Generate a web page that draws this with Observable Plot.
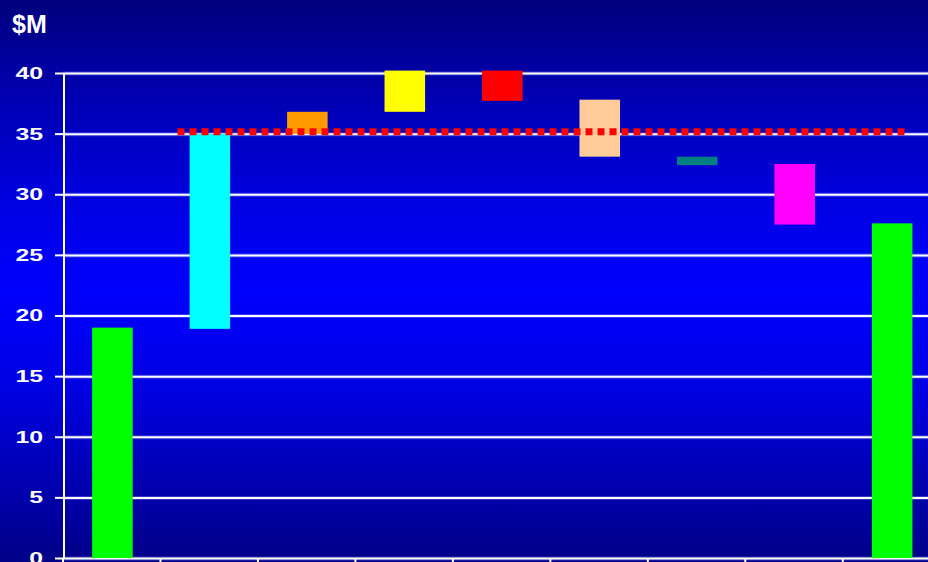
<!DOCTYPE html>
<html>
<head>
<meta charset="utf-8">
<script src="https://cdn.jsdelivr.net/npm/d3@7"></script>
<script src="https://cdn.jsdelivr.net/npm/@observablehq/plot@0.6"></script>
<style>
html, body { margin: 0; padding: 0; overflow: hidden; }
body {
  width: 928px; height: 562px; position: relative; color: #fff;
  font-family: "Liberation Sans", Arial, sans-serif;
  background: linear-gradient(to bottom, #00007e 0%, #0000b4 18%, #0000e6 38%, #0000ff 52%, #0000e0 70%, #0000b0 86%, #000088 100%);
}
#chart { position: absolute; left: 0; top: 0; }
#title { position: absolute; left: 12px; top: 12px; font-weight: bold; font-size: 25px; line-height: 25px; color: #fff; }
</style>
</head>
<body>
<div id="chart"></div>
<div id="title">$M</div>
<script>
// Waterfall categories (no labels shown in the original)
const categories = ["Start", "Step 1", "Step 2", "Step 3", "Step 4", "Step 5", "Step 6", "Step 7", "End"];
const lowValues  = [0,    18.9, 35.0, 36.8, 37.7, 33.1, 32.4, 27.5, 0];
const highValues = [19.0, 35.0, 36.8, 40.2, 40.2, 37.8, 33.1, 32.5, 27.6];
const barColors  = ["#00ff00", "#00ffff", "#ff9900", "#ffff00", "#ff0000", "#ffcc99", "#008080", "#ff00ff", "#00ff00"];
const yTicks = [0, 5, 10, 15, 20, 25, 30, 35, 40];
const referenceValue = 35.2;

const rows = categories.map((c, i) => ({category: c, index: i, low: lowValues[i], high: highValues[i]}));
const halfWidth = 0.208;
const centerOffset = 0.512;

const chart = Plot.plot({
  width: 928,
  height: 562,
  marginLeft: 63,
  marginRight: 0,
  marginTop: 73,
  marginBottom: 4,
  style: {background: "transparent", color: "white", fontFamily: "'Liberation Sans', Arial, sans-serif"},
  x: {type: "linear", domain: [0, categories.length], range: [62.5, 62.5 + 97.47 * categories.length], axis: null},
  y: {domain: [0, 40], range: [558, 73], axis: null},
  color: {domain: categories, range: barColors},
  marks: [
    // gridline glow + gridlines
    Plot.ruleY(yTicks, {stroke: "#aab4ff", strokeWidth: 4, strokeOpacity: 0.3}),
    Plot.ruleY(yTicks, {stroke: "white", strokeWidth: 2}),
    // floating bars
    Plot.rectY(rows, {
      x1: d => d.index + centerOffset - halfWidth,
      x2: d => d.index + centerOffset + halfWidth,
      y1: "low",
      y2: "high",
      fill: "category"
    }),
    // y axis line
    Plot.ruleX([0], {y1: 0, y2: 40, stroke: "white", strokeWidth: 2, dx: 1}),
    Plot.axisY({
      ticks: yTicks, tickSize: 8, tickPadding: 12.5, color: "white",
      strokeWidth: 2, fontSize: 17, fontWeight: "bold", tickFormat: d => String(d)
    }),
    Plot.axisX({
      ticks: d3.range(0, categories.length), tickSize: 10, color: "white",
      strokeWidth: 2, tickFormat: () => ""
    }),
    // dotted reference line
    Plot.ruleY([referenceValue], {x1: 1.18, x2: 8.64, stroke: "#ff0000", strokeWidth: 7, strokeDasharray: "7,5"})
  ]
});

document.getElementById("chart").appendChild(chart);

// widen the tick labels like the original's stretched digits
chart.querySelectorAll('g[aria-label="y-axis tick label"] text').forEach(t => {
  const n = t.textContent.length;
  t.setAttribute("textLength", 13.8 * n);
  t.setAttribute("lengthAdjust", "spacingAndGlyphs");
});
</script>
</body>
</html>
